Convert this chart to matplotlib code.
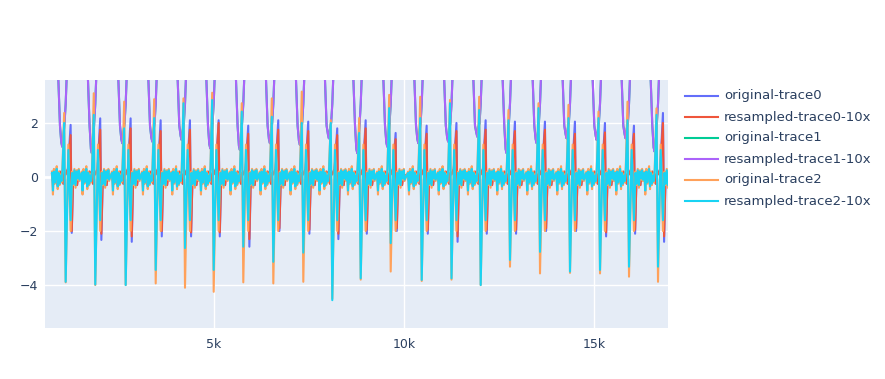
import numpy as np
import matplotlib.pyplot as plt
from matplotlib.lines import Line2D
from matplotlib.ticker import FuncFormatter

# posições dos batimentos
beat_x = [1097, 1876, 2676, 3466, 4237, 4992, 5771, 6561, 7350, 8113, 8861,
          9650, 10466, 11250, 12018, 12789, 13579, 14368, 15158, 15921, 16684]

# trace2: picos e vales por batimento
orange_peak = [2.37, 3.10, 2.79, 2.88, 2.91, 3.12, 2.73, 2.91, 3.16, 2.10, 2.18,
               3.04, 2.97, 2.85, 2.97, 2.48, 2.73, 2.67, 2.42, 2.79, 2.54]
orange_trough = [-3.90, -4.00, -4.00, -3.94, -4.10, -4.25, -3.90, -3.94, -3.88, -4.50, -3.80,
                 -3.50, -3.85, -3.80, -4.00, -3.32, -3.57, -3.55, -3.57, -3.69, -3.88]
cyan_peak = [2.00, 2.30, 1.80, 2.18, 2.73, 2.85, 2.42, 2.23, 2.00, 2.00, 1.63,
             2.55, 2.18, 2.73, 2.48, 2.10, 2.55, 2.18, 2.18, 2.10, 2.30]
cyan_trough = [-3.88, -3.98, -4.00, -3.44, -2.63, -3.44, -2.58, -3.14, -2.80, -4.56, -3.75,
               -2.45, -3.81, -3.75, -4.00, -3.07, -2.77, -3.50, -3.44, -3.32, -3.32]

# trace0: pico e vale logo após o batimento
blue_peak = [1.93, 2.17, 2.17, 2.10, 2.10, 2.10, 1.90, 2.10, 2.05, 1.80, 2.10,
             1.63, 1.90, 2.00, 2.10, 2.05, 2.05, 2.05, 2.00, 1.90, 2.37]
red_peak = [1.55, 1.75, 1.80, 1.70, 1.75, 2.00, 1.60, 1.75, 1.70, 1.55, 1.80,
            1.40, 1.60, 1.70, 1.75, 1.70, 1.75, 1.60, 1.65, 1.60, 2.00]
blue_trough = [-2.07, -2.33, -2.40, -2.20, -2.20, -2.20, -2.58, -2.00, -2.10, -2.30, -2.10,
               -2.00, -2.10, -2.40, -2.10, -2.10, -2.00, -2.00, -2.20, -2.10, -2.40]
red_trough = [-2.00, -2.10, -2.20, -2.00, -2.05, -2.05, -2.30, -1.90, -1.95, -2.10, -1.95,
              -1.90, -1.95, -2.20, -1.95, -1.95, -1.90, -1.90, -2.05, -1.95, -2.20]

# trace1: mínimo do "V"
purple_min = [1.12, 0.88, 1.25, 1.31, 1.37, 1.06, 1.00, 1.25, 1.19, 1.43, 0.88,
              1.12, 1.25, 1.31, 1.49, 0.88, 1.25, 1.43, 1.37, 1.43, 0.94]

# forma típica de um intervalo (deslocamento em relação ao batimento)
t2_dx = [-360, -335, -310, -285, -260, -235, -210, -185, -160, -135, -110, -85, -40, 0,
         70, 130, 170, 200, 230, 260, 290, 320, 345, 365]
orange_wig = [0.20, -0.65, 0.30, -0.25, 0.15, 0.40, -0.45, 0.20, -0.30, 0.10, -0.20, 0.35, None, None,
              1.20, -2.00, 0.20, -0.30, 0.30, -0.40, 0.25, -0.10, 0.30, -0.15]
cyan_wig = [0.15, -0.50, 0.20, -0.20, 0.10, 0.30, -0.35, 0.15, -0.25, 0.05, -0.15, 0.25, None, None,
            1.00, -1.60, 0.15, -0.25, 0.25, -0.30, 0.20, -0.05, 0.25, -0.10]

t0_dx = [-360, -330, -300, -270, -240, -210, -180, -150, -120, -90, -60, -30, 0, 60, 130, 160,
         200, 235, 270, 300, 335, 365]
blue_wig = [0.10, -0.20, 0.20, -0.10, 0.15, -0.30, 0.05, 0.20, -0.15, 0.10, -0.25, 0.15, 0.10, 0.30,
            None, None, 0.10, -0.20, 0.20, -0.30, 0.15, 0.05]

t1_dx = [-360, -195, -150, -115, -90, -60, -30, 0, 26, 365]
purple_shape = [7.0, 3.7, 1.9, 0.15, 0.0, 0.35, 2.0, 2.7, 3.7, 7.0]

x_start, x_end = 553, 16947


def montar(dx, vals, extra):
    xs, ys = [], []
    for i, b in enumerate(beat_x):
        for d, v in zip(dx, vals):
            if v is None:
                v = extra[d][i]
            xs.append(b + d)
            ys.append(v)
    return np.array(xs), np.array(ys)


x_or, y_or = montar(t2_dx, orange_wig, {-40: orange_peak, 0: orange_trough})
x_cy, y_cy = montar(t2_dx, cyan_wig, {-40: cyan_peak, 0: cyan_trough})
x_bl, y_bl = montar(t0_dx, blue_wig, {130: blue_peak, 160: blue_trough})
x_rd, y_rd = montar(t0_dx, blue_wig, {130: red_peak, 160: red_trough})
x_pu, y_pu = montar(t1_dx, purple_shape, {})
# o mínimo do V varia por batimento
y_pu = y_pu.reshape(len(beat_x), -1)
for i, m in enumerate(purple_min):
    y_pu[i, 3] = m + 0.15
    y_pu[i, 4] = m
    y_pu[i, 5] = m + 0.35
y_pu = y_pu.ravel()

plt.rcParams['font.family'] = ['DejaVu Sans']

fig = plt.figure(figsize=(8.85, 3.79), dpi=100)
ax = fig.add_axes([45 / 885, 51 / 379, 623 / 885, 248 / 379])
ax.set_facecolor('#E5ECF6')
for s in ax.spines.values():
    s.set_visible(False)

lw = 1.5
series = [
    (x_bl, y_bl, '#636EFA', 'original-trace0'),
    (x_rd, y_rd, '#EF553B', 'resampled-trace0-10x'),
    (x_pu, y_pu, '#00CC96', 'original-trace1'),
    (x_pu, y_pu, '#AB63FA', 'resampled-trace1-10x'),
    (x_or, y_or, '#FFA15A', 'original-trace2'),
    (x_cy, y_cy, '#19D3F3', 'resampled-trace2-10x'),
]
for xs, ys, c, nome in series:
    ax.plot(xs, ys, color=c, lw=lw, solid_joinstyle='round', zorder=3)

ax.set_xlim(x_start, x_end)
ax.set_ylim(-5.59, 3.59)
ax.set_xticks([5000, 10000, 15000])
ax.xaxis.set_major_formatter(FuncFormatter(lambda v, p: f'{int(v / 1000)}k'))
ax.set_yticks([-4, -2, 0, 2])
ax.set_yticklabels(['\u22124', '\u22122', '0', '2'])
ax.grid(True, color='white', lw=1, zorder=0)
ax.axhline(0, color='white', lw=2, zorder=1)
ax.tick_params(length=0, labelsize=9, labelcolor='#2a3f5f', pad=5)
ax.tick_params(axis='x', pad=7)

# legenda manual
for k, (xs, ys, c, nome) in enumerate(series):
    yy = 1 - (96 + 21 * k) / 379
    fig.add_artist(Line2D([685 / 885, 718 / 885], [yy, yy], color=c, lw=lw))
    fig.text(724 / 885, yy, nome, fontsize=9.5, color='#2a3f5f',
             va='center', ha='left')

fig.savefig('out.png', dpi=100)
